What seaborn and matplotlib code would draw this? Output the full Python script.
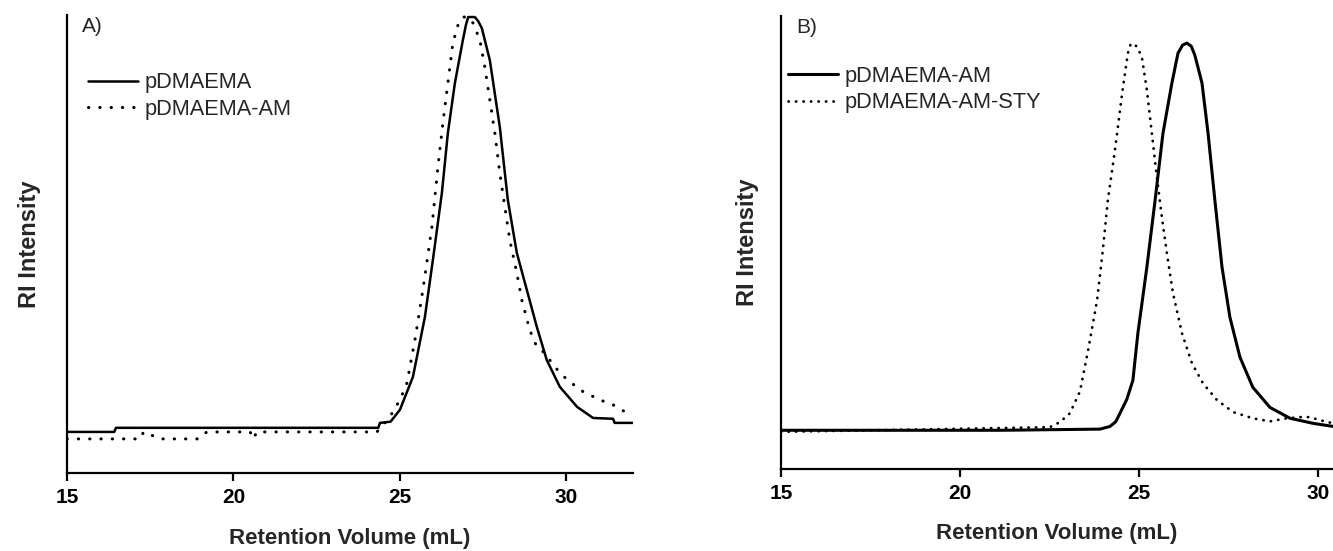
import matplotlib
matplotlib.use("Agg")
import matplotlib.pyplot as plt
import seaborn as sns

# ───────────── panel A: pDMAEMA vs pDMAEMA-AM (RI trace, normalised) ─────────────
a_pdmaema_x = [15.0, 16.42, 16.47, 24.35, 24.40, 24.72, 25.00, 25.39, 25.75, 25.99,
               26.26, 26.44, 26.65, 26.89, 26.98, 27.05, 27.25, 27.35, 27.46, 27.70,
               28.00, 28.24, 28.51, 28.81, 29.11, 29.41, 29.80, 30.32, 30.80, 31.40,
               31.45, 32.0]
a_pdmaema_y = [-0.010, -0.010, 0.000, 0.000, 0.012, 0.015, 0.044, 0.124, 0.270, 0.409,
               0.572, 0.718, 0.839, 0.944, 0.980, 1.000, 1.000, 0.990, 0.973, 0.895,
               0.732, 0.555, 0.426, 0.336, 0.246, 0.165, 0.100, 0.051, 0.024, 0.022,
               0.012, 0.012]

a_am_x = [15.0, 17.2, 17.3, 17.6, 17.8, 18.95, 19.2, 20.5, 20.6, 20.7, 24.31,
          24.70, 25.00, 25.21, 25.45, 25.69, 25.96, 26.14, 26.29, 26.44, 26.59,
          26.77, 26.90, 27.04, 27.20, 27.40, 27.55, 27.70, 27.85, 28.00, 28.15,
          28.30, 28.51, 28.66, 28.90, 29.11, 29.35, 29.65, 30.02, 30.50, 31.01,
          31.40, 31.76, 32.0]
a_am_y = [-0.027, -0.027, -0.010, -0.020, -0.027, -0.027, -0.010, -0.010, -0.027, -0.010, -0.010,
          0.027, 0.068, 0.109, 0.214, 0.336, 0.489, 0.635, 0.742, 0.839, 0.937,
          0.988, 1.000, 1.000, 0.985, 0.944, 0.878, 0.798, 0.718, 0.620, 0.538,
          0.457, 0.377, 0.311, 0.238, 0.197, 0.182, 0.148, 0.117, 0.088, 0.068,
          0.056, 0.039, 0.030]

# ───────────── panel B: pDMAEMA-AM vs pDMAEMA-AM-STY ─────────────
b_am_x = [15.0, 21.12, 23.91, 24.19, 24.35, 24.47, 24.66, 24.83, 24.97, 25.22,
          25.45, 25.67, 25.92, 26.09, 26.22, 26.34, 26.46, 26.56, 26.76, 26.93,
          27.12, 27.32, 27.54, 27.82, 28.18, 28.66, 29.22, 29.86, 30.42]
b_am_y = [0.000, 0.000, 0.003, 0.010, 0.022, 0.044, 0.080, 0.129, 0.251, 0.421,
          0.594, 0.767, 0.897, 0.974, 0.995, 1.000, 0.992, 0.969, 0.897, 0.767,
          0.594, 0.421, 0.292, 0.189, 0.111, 0.059, 0.031, 0.018, 0.010]

b_sty_x = [15.0, 22.51, 22.79, 23.07, 23.35, 23.58, 23.83, 23.99, 24.13, 24.33,
           24.53, 24.69, 24.76, 24.83, 24.95, 25.08, 25.22, 25.36, 25.50, 25.64,
           25.78, 25.95, 26.20, 26.48, 26.79, 27.18, 27.63, 28.18, 28.66, 29.13,
           29.50, 29.78, 30.06, 30.42]
b_sty_y = [-0.004, 0.008, 0.021, 0.044, 0.100, 0.207, 0.336, 0.465, 0.594, 0.724,
           0.871, 0.974, 0.995, 1.000, 0.990, 0.964, 0.879, 0.767, 0.654, 0.550,
           0.457, 0.354, 0.251, 0.173, 0.121, 0.078, 0.047, 0.031, 0.023, 0.031,
           0.034, 0.034, 0.026, 0.018]

labels_a = ["pDMAEMA", "pDMAEMA-AM"]
labels_b = ["pDMAEMA-AM", "pDMAEMA-AM-STY"]

sns.set_style("white")
plt.rcParams["font.family"] = ["Liberation Sans", "DejaVu Sans"]

W, H = 1333, 551
fig = plt.figure(figsize=(W / 100, H / 100), dpi=100)
ax_a = fig.add_axes([67 / W, (H - 473) / H, (633 - 67) / W, (473 - 15) / H])
ax_b = fig.add_axes([781 / W, (H - 469) / H, (W - 781) / W, (469 - 16) / H])

dot_a = dict(linestyle=(0, (0.1, 3.6)), dash_capstyle="round", lw=2.2)
dot_b = dict(linestyle=(0, (0.1, 2.6)), dash_capstyle="round", lw=2.0)

sns.lineplot(x=a_pdmaema_x, y=a_pdmaema_y, ax=ax_a, color="black", lw=1.8,
             estimator=None, sort=False, label=labels_a[0])
sns.lineplot(x=a_am_x, y=a_am_y, ax=ax_a, color="black",
             estimator=None, sort=False, label=labels_a[1], **dot_a)

sns.lineplot(x=b_am_x, y=b_am_y, ax=ax_b, color="black", lw=2.2,
             estimator=None, sort=False, label=labels_b[0])
sns.lineplot(x=b_sty_x, y=b_sty_y, ax=ax_b, color="black",
             estimator=None, sort=False, label=labels_b[1], **dot_b)

panels = [(ax_a, "A)", (15, 32), (-0.11, 1.005), 0.875, 0.037),
          (ax_b, "B)", (15, 30.42), (-0.10, 1.07), 0.89, 0.013)]
for ax, tag, xl, yl, leg_y, leg_x in panels:
    ax.set_xlim(*xl)
    ax.set_ylim(*yl)
    ax.set_xticks([15, 20, 25, 30])
    ax.set_yticks([])
    for s in ("top", "right"):
        ax.spines[s].set_visible(False)
    for s in ("left", "bottom"):
        ax.spines[s].set_color("black")
        ax.spines[s].set_linewidth(1.6)
    ax.tick_params(axis="x", direction="out", length=6, width=1.6, pad=5,
                   labelsize=15, colors="black", bottom=True)
    for t in ax.get_xticklabels():
        t.set_fontweight("bold")
    ax.set_xlabel("Retention Volume (mL)", fontsize=16, fontweight="bold")
    ax.set_ylabel("RI Intensity", fontsize=17, fontweight="bold")
    ax.xaxis.set_label_coords(0.5, -0.12)
    ax.text(0.027, 0.975, tag, transform=ax.transAxes, fontsize=15,
            ha="left", va="center")
    ax.legend(loc="upper left", bbox_to_anchor=(leg_x, leg_y), frameon=False,
              fontsize=15.7, handlelength=2.3, handletextpad=0.3,
              labelspacing=0.25, borderpad=0, borderaxespad=0)

ax_a.yaxis.set_label_coords(-0.046, 0.5)
ax_b.yaxis.set_label_coords(-0.040, 0.5)

fig.savefig("out.png", dpi=100)
